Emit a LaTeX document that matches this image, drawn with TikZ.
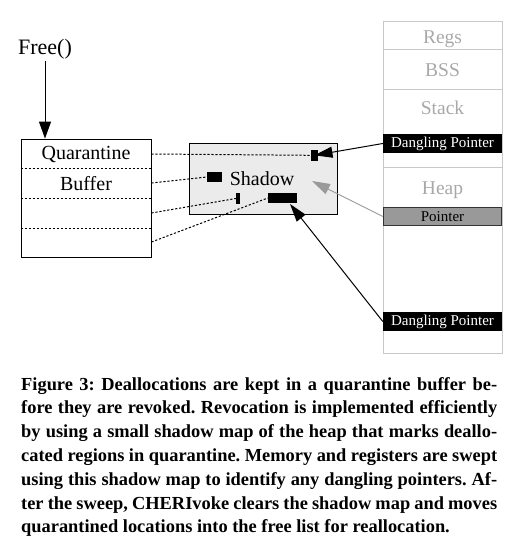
\documentclass[tikz,border=0pt]{standalone}
\usepackage{fontspec}
\setmainfont{Liberation Serif}
\usetikzlibrary{arrows.meta}
\definecolor{colgray}{HTML}{C8C8C8}
\definecolor{txtgray}{HTML}{A8A8A8}
\definecolor{shadowfill}{HTML}{EBEBEB}
\definecolor{ptrfill}{HTML}{999999}
\definecolor{arrgray}{HTML}{9A9A9A}
\newcommand{\capline}[1]{\noindent\hbox to 476pt{#1}\par}
\begin{document}
\begin{tikzpicture}[x=1pt,y=-1pt,
  lbl/.style={inner sep=0pt, anchor=base, font=\fontsize{20}{22}\selectfont},
  seglbl/.style={inner sep=0pt, anchor=base, text=txtgray, font=\fontsize{19.5}{22}\selectfont},
  band/.style={minimum width=119pt, minimum height=19pt, inner sep=0pt, font=\fontsize{15}{17}\selectfont},
  blk/.style={fill=black, inner sep=0pt},
  dots/.style={line width=1pt, dash pattern=on 2.2pt off 1.8pt},
  arr/.style={line width=1pt, -{Triangle[length=18pt,width=11pt]}},
  sep/.style={draw=colgray, line width=0.8pt}
]
\useasboundingbox (0,0) rectangle (517,541);

% Free() and arrow into the quarantine buffer
\node[inner sep=0pt, anchor=base, font=\fontsize{22}{24}\selectfont] (free) at (45,54) {Free()};
\node[draw, line width=0.9pt, minimum width=130pt, minimum height=118pt, inner sep=0pt] (q) at (86,198) {};
\draw[line width=1pt, -{Triangle[length=17pt,width=12pt]}] (free.south) ++(0,2) -- (free.south |- q.north);

\coordinate (d1) at (0,168);
\coordinate (d2) at (0,198);
\coordinate (d3) at (0,228);
\foreach \d in {d1,d2,d3}
  \draw[dots] (q.west |- \d) -- (q.east |- \d);
\node[lbl] (quar) at (86,159) {Quarantine};
\node[lbl] (buf) at (86,190) {Buffer};

% Shadow map
\node[draw, line width=0.9pt, fill=shadowfill, minimum width=148pt, minimum height=71pt, inner sep=0pt] (sh) at (263,178.5) {};
\node[lbl] (shtxt) at (262,185) {Shadow};
\node[blk, minimum width=7.6pt, minimum height=10.6pt] (s1) at (314.5,155.3) {};
\node[blk, minimum width=15pt, minimum height=10pt] (s2) at (214.5,177) {};
\node[blk, minimum width=4pt, minimum height=11pt] (s3) at (238,198.5) {};
\node[blk, minimum width=29pt, minimum height=10pt] (s4) at (282.5,198) {};

\coordinate (r1) at (0,154);
\coordinate (r2) at (0,183);
\coordinate (r3) at (0,213);
\coordinate (r4) at (0,242);
\draw[dots] (q.east |- r1) -- (s1.west);
\draw[dots] (q.east |- r2) -- (s2.west);
\draw[dots] (q.east |- r3) -- (s3.west);
\draw[dots] (q.east |- r4) -- (s4.west);

% Memory column
\node[sep, minimum width=119pt, minimum height=332pt, inner sep=0pt] (col) at (442.5,187) {};
\coordinate (h1) at (0,49);
\coordinate (h2) at (0,89);
\coordinate (h3) at (0,167);
\foreach \h in {h1,h2,h3}
  \draw[colgray, line width=0.8pt] (col.west |- \h) -- (col.east |- \h);
\node[seglbl] (regs) at (442.5,43) {Regs};
\node[seglbl] (bss) at (442.5,76) {BSS};
\node[seglbl] (stack) at (442.5,114) {Stack};
\node[seglbl] (heap) at (442.5,194) {Heap};
\node[band, fill=black, text=white] (dp1) at (442.5,143.5) {Dangling Pointer};
\node[band, fill=ptrfill, draw=black!80, line width=0.8pt, minimum width=118.5pt, minimum height=18.5pt] (ptr) at (442.5,216.5) {Pointer};
\node[band, fill=black, text=white] (dp2) at (442.5,321.5) {Dangling Pointer};

% Pointers into the shadow map
\coordinate (gt) at (312,181);
\coordinate (bt) at (290,204);
\draw[arr] (dp1.west) -- (s1.center);
\draw[arr, arrgray, line width=0.9pt] (ptr.west) -- (gt);
\draw[arr] (dp2.west) -- (bt);

% Caption
\node[anchor=base west, inner sep=0pt, text width=476pt, align=left,
      font=\fontsize{18.4}{23.8}\selectfont\bfseries\frenchspacing] (cap) at (21,390) {%
\spaceskip=0.25em plus 0.4em minus 0.12em
\capline{Figure 3: Deallocations are kept in a quarantine buffer be-}%
\capline{fore they are revoked. Revocation is implemented efficiently}%
\capline{by using a small shadow map of the heap that marks deallo-}%
\capline{cated regions in quarantine. Memory and registers are swept}%
\capline{using this shadow map to identify any dangling pointers. Af-}%
\capline{ter the sweep, CHERIvoke clears the shadow map and moves}%
\noindent quarantined locations into the free list for reallocation.};
\end{tikzpicture}
\end{document}
